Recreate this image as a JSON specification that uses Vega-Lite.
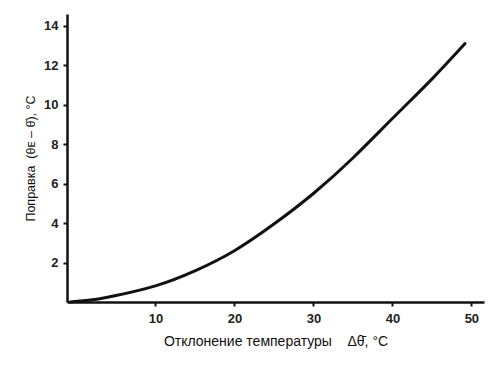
{
  "$schema": "https://vega.github.io/schema/vega-lite/v6.json",
  "width": 417,
  "height": 288,
  "autosize": "none",
  "padding": {"left": 67, "top": 14, "right": 11, "bottom": 64},
  "background": "white",
  "config": {
    "view": {"stroke": null},
    "font": "Liberation Sans"
  },
  "data": {
    "values": [
      {"x": -0.8, "y": 0.0},
      {"x": 2, "y": 0.11},
      {"x": 5, "y": 0.33},
      {"x": 10, "y": 0.82},
      {"x": 15, "y": 1.58},
      {"x": 20, "y": 2.6},
      {"x": 25, "y": 3.95},
      {"x": 30, "y": 5.5},
      {"x": 35, "y": 7.3},
      {"x": 40, "y": 9.3},
      {"x": 45, "y": 11.3},
      {"x": 49.2, "y": 13.1}
    ]
  },
  "mark": {"type": "line", "interpolate": "natural", "color": "#111", "strokeWidth": 3, "strokeCap": "round"},
  "encoding": {
    "x": {
      "field": "x",
      "type": "quantitative",
      "scale": {"domain": [-1.2, 51.6], "nice": false, "zero": false},
      "axis": {
        "values": [10, 20, 30, 40, 50],
        "title": "Отклонение температуры\u00a0\u00a0\u00a0\u00a0Δθ̄, °C",
        "titleFont": "Liberation Sans",
        "titleFontSize": 14,
        "titleFontWeight": "normal",
        "titleColor": "#111",
        "titlePadding": 9,
        "labelFontSize": 13,
        "labelFontWeight": "bold",
        "labelColor": "#222",
        "labelPadding": 6,
        "domainColor": "#111",
        "domainWidth": 2.5,
        "tickColor": "#111",
        "tickWidth": 2,
        "tickSize": 4,
        "grid": false
      }
    },
    "y": {
      "field": "y",
      "type": "quantitative",
      "scale": {"domain": [0, 14.6], "nice": false},
      "axis": {
        "values": [2, 4, 6, 8, 10, 12, 14],
        "title": "Поправка\u00a0\u00a0(θᴇ – θ̄), °C",
        "titleFont": "Liberation Sans",
        "titleFontSize": 12.5,
        "titleFontWeight": "normal",
        "titleColor": "#111",
        "titlePadding": 6,
        "labelFontSize": 13,
        "labelFontWeight": "bold",
        "labelColor": "#222",
        "labelPadding": 5,
        "domainColor": "#111",
        "domainWidth": 2.5,
        "tickColor": "#111",
        "tickWidth": 2,
        "tickSize": 4,
        "grid": false
      }
    }
  }
}
